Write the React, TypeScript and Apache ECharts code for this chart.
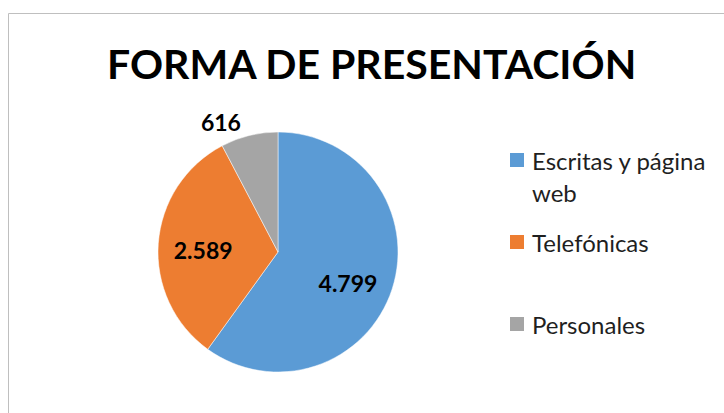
import React, { useEffect, useRef } from "react";
import * as echarts from "echarts";

const titleText = "FORMA DE PRESENTACIÓN";
const categories = ["Escritas y página web", "Telefónicas", "Personales"];
const values = [4799, 2589, 616];
const colors = ["#5B9BD5", "#ED7D31", "#A5A5A5"];

const fmt = (v: number) => String(v).replace(/\B(?=(\d{3})+(?!\d))/g, ".");

export default function App() {
  const ref = useRef<HTMLDivElement>(null);
  useEffect(() => {
    if (!ref.current) return;
    const chart = echarts.init(ref.current, null, { renderer: "svg" });
    const labelShift: Record<number, [number, number]> = { 0: [10, 12], 1: [-12, 2], 2: [0, 0] };
    chart.setOption({
      animation: false,
      backgroundColor: "#ffffff",
      title: {
        text: titleText,
        left: 107,
        top: 43,
        padding: 0,
        textStyle: { fontFamily: "Lato", fontWeight: "bold", fontSize: 41, color: "#000000" },
      },
      graphic: [
        {
          type: "rect",
          shape: { x: 8.5, y: 13.5, width: 800, height: 500 },
          style: { fill: "none", stroke: "#BFBFBF", lineWidth: 1 },
          silent: true,
        },
      ],
      legend: {
        orient: "vertical",
        left: 508,
        top: 112,
        padding: 0,
        itemWidth: 16,
        itemHeight: 16,
        itemGap: -14,
        icon: "rect",
        formatter: (n: string) => (n.indexOf("página ") >= 0 ? "\n" + n.replace("página ", "página\n") : n),
        textStyle: { fontFamily: "Lato", fontSize: 24, color: "#1f1f1f", lineHeight: 32 },
        data: [
          { name: categories[0], textStyle: { padding: [0, 0, 0, 2] } },
          { name: categories[1], textStyle: { padding: [32, 0, 32, 2] } },
          { name: categories[2], textStyle: { padding: [32, 0, 32, 2] } },
        ],
      },
      series: [
        {
          type: "pie",
          center: [278, 252],
          radius: 120,
          startAngle: 90,
          clockwise: true,
          avoidLabelOverlap: false,
          itemStyle: { borderColor: "#ffffff", borderWidth: 0.5 },
          label: {
            show: true,
            position: "inside",
            formatter: (p: any) => fmt(p.value),
            fontFamily: "Lato",
            fontWeight: "bold",
            fontSize: 23,
            color: "#000000",
          },
          labelLine: { show: false },
          labelLayout: (p: any) => {
            const s = labelShift[p.dataIndex] || [0, 0];
            return { dx: s[0], dy: s[1] };
          },
          data: categories.map((c, i) => ({
            name: c,
            value: values[i],
            itemStyle: { color: colors[i] },
            ...(i === 2
              ? { label: { position: "outside" }, labelLine: { show: false, length: 14, length2: 0 } }
              : {}),
          })),
        },
      ],
    });
    return () => chart.dispose();
  }, []);
  return <div ref={ref} style={{ position: "fixed", left: 0, top: 0, width: 724, height: 413 }} />;
}
